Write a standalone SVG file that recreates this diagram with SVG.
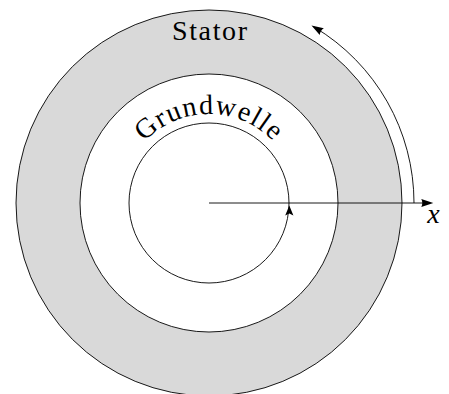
<svg xmlns="http://www.w3.org/2000/svg" width="449" height="394" viewBox="0 0 449 394">
  <style>
    .ln { fill: none; stroke: #000; stroke-width: 0.9; }
    .lbl { font-family: "Liberation Serif", "DejaVu Serif", serif; fill: #000; }
  </style>
  <defs>
    <marker id="arr" markerUnits="userSpaceOnUse" markerWidth="14" markerHeight="10" refX="9" refY="4.5" orient="auto" overflow="visible">
      <path d="M0,0.5 L12,4.5 L0,8.5 Q2,4.5 0,0.5 Z" fill="#000"/>
    </marker>
    <path id="gwPath" d="M131.92,158.5 A89,89 0 0 1 286.08,158.5"/>
  </defs>
  <rect width="449" height="394" fill="#fff"/>
  <g id="stator">
    <circle cx="209" cy="203" r="193" class="ln" style="fill:#d9d9d9"/>
    <text class="lbl" x="209.5" y="40" font-size="28" text-anchor="middle" textLength="75" lengthAdjust="spacing">Stator</text>
  </g>
  <g id="rotor">
    <circle cx="209" cy="203" r="129" class="ln" style="fill:#fff"/>
  </g>
  <g id="grundwelle">
    <circle cx="209" cy="203" r="80" class="ln"/>
    <text class="lbl" font-size="28" letter-spacing="1.3"><textPath href="#gwPath" startOffset="50%" text-anchor="middle" dx="0.65">Grundwelle</textPath></text>
    <polygon points="289.3,205.5 285.2,215.5 289.3,213.5 293.4,215.5" fill="#000"/>
  </g>
  <g id="connectors">
    <line x1="209" y1="203" x2="430.3" y2="203" class="ln" marker-end="url(#arr)"/>
    <path d="M414,203 A205,205 0 0 0 314.06,26.97" class="ln" marker-end="url(#arr)"/>
  </g>
  <g id="axis-label">
    <text class="lbl" x="433.5" y="223" font-size="28" font-style="italic" text-anchor="middle">x</text>
  </g>
</svg>
